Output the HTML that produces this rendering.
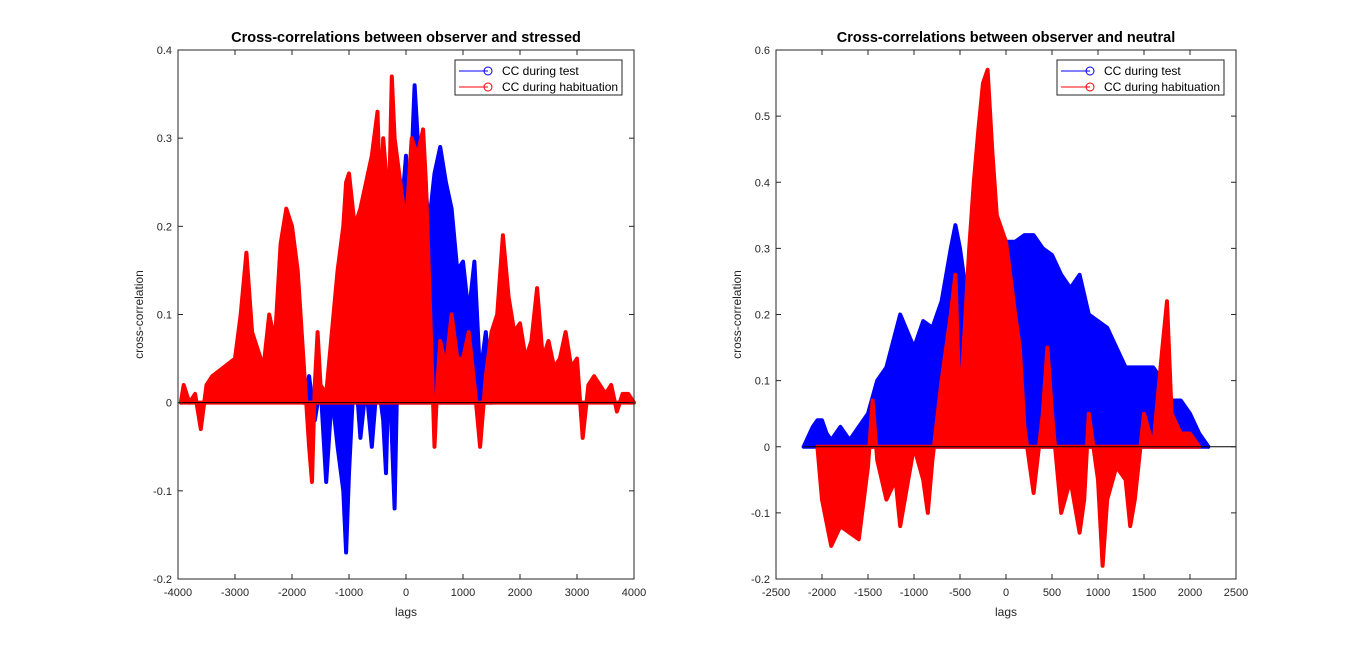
<!DOCTYPE html>
<html><head><meta charset="utf-8"><style>
body{margin:0;background:#fff;}
svg{display:block;font-family:"Liberation Sans",sans-serif;}
</style></head><body>
<svg id="fig" width="1366" height="651">
<g id="left"></g>
<g id="right"></g>
</svg>
<script>
// Left chart data (stressed)
const leftXTicks=[-4000,-3000,-2000,-1000,0,1000,2000,3000,4000];
const leftYTicks=[-0.2,-0.1,0,0.1,0.2,0.3,0.4];
const leftTestLags=[-1800,-1700,-1600,-1500,-1400,-1300,-1200,-1100,-1050,-1000,-900,-800,-700,-600,-500,-400,-350,-300,-200,-100,0,50,150,250,300,400,500,600,700,800,900,1000,1100,1200,1300,1400,1500];
const leftTestVals=[0,0.03,-0.02,0.02,-0.09,0.01,-0.05,-0.1,-0.17,-0.08,0.05,-0.04,0.02,-0.05,0.03,-0.02,-0.08,0.05,-0.12,0.2,0.28,0.2,0.36,0.25,0.28,0.2,0.26,0.29,0.25,0.22,0.15,0.16,0.1,0.16,0.03,0.08,0];
const leftHabLags=[-3950,-3900,-3800,-3700,-3600,-3500,-3400,-3200,-3000,-2900,-2800,-2700,-2600,-2500,-2400,-2300,-2200,-2100,-2000,-1900,-1800,-1700,-1650,-1600,-1550,-1500,-1400,-1300,-1200,-1100,-1050,-1000,-900,-800,-700,-600,-500,-450,-400,-300,-250,-200,-100,0,100,200,300,350,400,500,550,600,700,800,900,1000,1100,1200,1300,1400,1500,1600,1700,1800,1900,2000,2100,2200,2300,2400,2500,2600,2700,2800,2900,3000,3100,3200,3300,3400,3500,3600,3700,3800,3900,4000];
const leftHabVals=[0,0.02,0,0.01,-0.03,0.02,0.03,0.04,0.05,0.1,0.17,0.08,0.06,0.04,0.1,0.07,0.18,0.22,0.2,0.15,0.05,-0.05,-0.09,0.02,0.08,0.02,0.01,0.08,0.15,0.2,0.25,0.26,0.2,0.22,0.25,0.28,0.33,0.22,0.3,0.22,0.37,0.3,0.25,0.2,0.3,0.28,0.31,0.25,0.15,-0.05,0.02,0.07,0.04,0.1,0.05,0.05,0.08,0.02,-0.05,0.03,0.08,0.1,0.19,0.12,0.08,0.09,0.05,0.07,0.13,0.05,0.07,0.04,0.05,0.08,0.04,0.05,-0.04,0.02,0.03,0.02,0.01,0.02,-0.01,0.01,0.01,0];
// Right chart data (neutral)
const rightXTicks=[-2500,-2000,-1500,-1000,-500,0,500,1000,1500,2000,2500];
const rightYTicks=[-0.2,-0.1,0,0.1,0.2,0.3,0.4,0.5,0.6];
const rightTestLags=[-2200,-2100,-2050,-2000,-1950,-1900,-1800,-1700,-1600,-1500,-1400,-1300,-1150,-1000,-900,-800,-700,-600,-550,-500,-400,-300,-200,-100,0,100,200,300,400,500,600,700,800,900,1000,1100,1200,1300,1400,1500,1600,1700,1800,1900,2000,2100,2200];
const rightTestVals=[0,0.03,0.04,0.04,0.02,0.01,0.03,0.01,0.03,0.05,0.1,0.12,0.2,0.15,0.19,0.18,0.22,0.3,0.335,0.3,0.2,0.28,0.3,0.3,0.31,0.31,0.32,0.32,0.3,0.29,0.26,0.24,0.26,0.2,0.19,0.18,0.15,0.12,0.12,0.12,0.12,0.1,0.07,0.07,0.05,0.02,0];
const rightHabLags=[-2050,-2000,-1900,-1800,-1700,-1600,-1500,-1450,-1400,-1300,-1200,-1150,-1100,-1000,-900,-850,-800,-700,-600,-550,-500,-400,-350,-300,-250,-200,-150,-100,0,100,150,200,300,400,450,500,600,700,800,850,900,1000,1050,1100,1200,1300,1350,1400,1500,1600,1700,1750,1800,1900,2000,2100];
const rightHabVals=[0,-0.08,-0.15,-0.12,-0.13,-0.14,-0.03,0.07,-0.02,-0.08,-0.05,-0.12,-0.08,0.0,-0.05,-0.1,-0.02,0.1,0.2,0.26,0.05,0.3,0.4,0.48,0.55,0.57,0.45,0.35,0.31,0.2,0.15,0.03,-0.07,0.05,0.15,0.05,-0.1,-0.05,-0.13,-0.08,0.05,-0.05,-0.18,-0.08,-0.03,-0.05,-0.12,-0.08,0.05,0,0.15,0.22,0.05,0.02,0.02,0];

const NS='http://www.w3.org/2000/svg';
function mk(parent,tag,attrs,text){const e=document.createElementNS(NS,tag);for(const k in attrs)e.setAttribute(k,attrs[k]);if(text!==undefined)e.textContent=text;parent.appendChild(e);return e;}

function drawChart(g,cfg){
  const sx=v=>cfg.x0+(v-cfg.xmin)/(cfg.xmax-cfg.xmin)*(cfg.x1-cfg.x0);
  const sy=v=>cfg.y1-(v-cfg.ymin)/(cfg.ymax-cfg.ymin)*(cfg.y1-cfg.y0);
  mk(g,'rect',{x:cfg.x0,y:cfg.y0,width:cfg.x1-cfg.x0,height:cfg.y1-cfg.y0,fill:'#fff'});
  function area(lags,vals,color,name){
    let d='M'+sx(lags[0])+','+sy(0);
    for(let i=0;i<lags.length;i++)d+=' L'+sx(lags[i]).toFixed(1)+','+sy(vals[i]).toFixed(1);
    d+=' L'+sx(lags[lags.length-1])+','+sy(0)+' Z';
    const p=mk(g,'path',{d:d,fill:color,stroke:color,'stroke-width':4,'stroke-linejoin':'round'});
    
    
  }
  area(cfg.tl,cfg.tv,'#0000ff','series-test');
  area(cfg.hl,cfg.hv,'#ff0000','series-habituation');
  mk(g,'line',{x1:sx(cfg.zeroFrom),x2:cfg.x1,y1:sy(0),y2:sy(0),stroke:'#000','stroke-width':1});
  mk(g,'rect',{x:cfg.x0,y:cfg.y0,width:cfg.x1-cfg.x0,height:cfg.y1-cfg.y0,fill:'none',stroke:'#262626','stroke-width':1});
  cfg.xt.forEach(t=>{const x=sx(t);
    mk(g,'line',{x1:x,x2:x,y1:cfg.y1,y2:cfg.y1-5,stroke:'#262626'});
    mk(g,'line',{x1:x,x2:x,y1:cfg.y0,y2:cfg.y0+5,stroke:'#262626'});
    const tx=mk(g,'text',{x:x,y:cfg.y1+17,'font-size':11,'text-anchor':'middle',fill:'#262626'},String(t));
    
    
  });
  cfg.yt.forEach(t=>{const y=sy(t);
    mk(g,'line',{x1:cfg.x0,x2:cfg.x0+5,y1:y,y2:y,stroke:'#262626'});
    mk(g,'line',{x1:cfg.x1,x2:cfg.x1-5,y1:y,y2:y,stroke:'#262626'});
    const tx=mk(g,'text',{x:cfg.x0-6,y:y+4,'font-size':11,'text-anchor':'end',fill:'#262626'},String(Math.round(t*10)/10));
    
    
  });
  const ti=mk(g,'text',{x:(cfg.x0+cfg.x1)/2,y:cfg.y0-8,'font-size':14.5,'font-weight':'bold','text-anchor':'middle',fill:'#000'},cfg.title);
  
  
  const xl=mk(g,'text',{x:(cfg.x0+cfg.x1)/2,y:cfg.y1+37,'font-size':12,'text-anchor':'middle',fill:'#262626'},'lags');
  
  
  const yx=cfg.x0-35,yy=(cfg.y0+cfg.y1)/2;
  const yl=mk(g,'text',{x:yx,y:yy,'font-size':12,'text-anchor':'middle',fill:'#262626',transform:'rotate(-90 '+yx+' '+yy+')'},'cross-correlation');
  
  
  const lg=mk(g,'g',{});
  
  
  mk(lg,'rect',{x:cfg.lx,y:60,width:167,height:35,fill:'#fff',stroke:'#262626','stroke-width':1});
  [['CC during test','#0000ff',71],['CC during habituation','#ff0000',87]].forEach(([lab,c,y])=>{
    const e=mk(lg,'g',{});
    
    
    mk(e,'line',{x1:cfg.lx+4,x2:cfg.lx+33,y1:y,y2:y,stroke:c});
    mk(e,'circle',{cx:cfg.lx+33,cy:y,r:4,fill:'none',stroke:c});
    mk(e,'text',{x:cfg.lx+47,y:y+4,'font-size':12,fill:'#000'},lab);
  });
}
drawChart(document.getElementById('left'),{x0:178,x1:634,y0:50,y1:579,xmin:-4000,xmax:4000,ymin:-0.2,ymax:0.4,
  xt:leftXTicks,yt:leftYTicks,tl:leftTestLags,tv:leftTestVals,hl:leftHabLags,hv:leftHabVals,zeroFrom:-4000,
  title:'Cross-correlations between observer and stressed',lx:455});
drawChart(document.getElementById('right'),{x0:776,x1:1236,y0:50,y1:579,xmin:-2500,xmax:2500,ymin:-0.2,ymax:0.6,
  xt:rightXTicks,yt:rightYTicks,tl:rightTestLags,tv:rightTestVals,hl:rightHabLags,hv:rightHabVals,zeroFrom:-2200,
  title:'Cross-correlations between observer and neutral',lx:1057});
</script>
</body></html>
